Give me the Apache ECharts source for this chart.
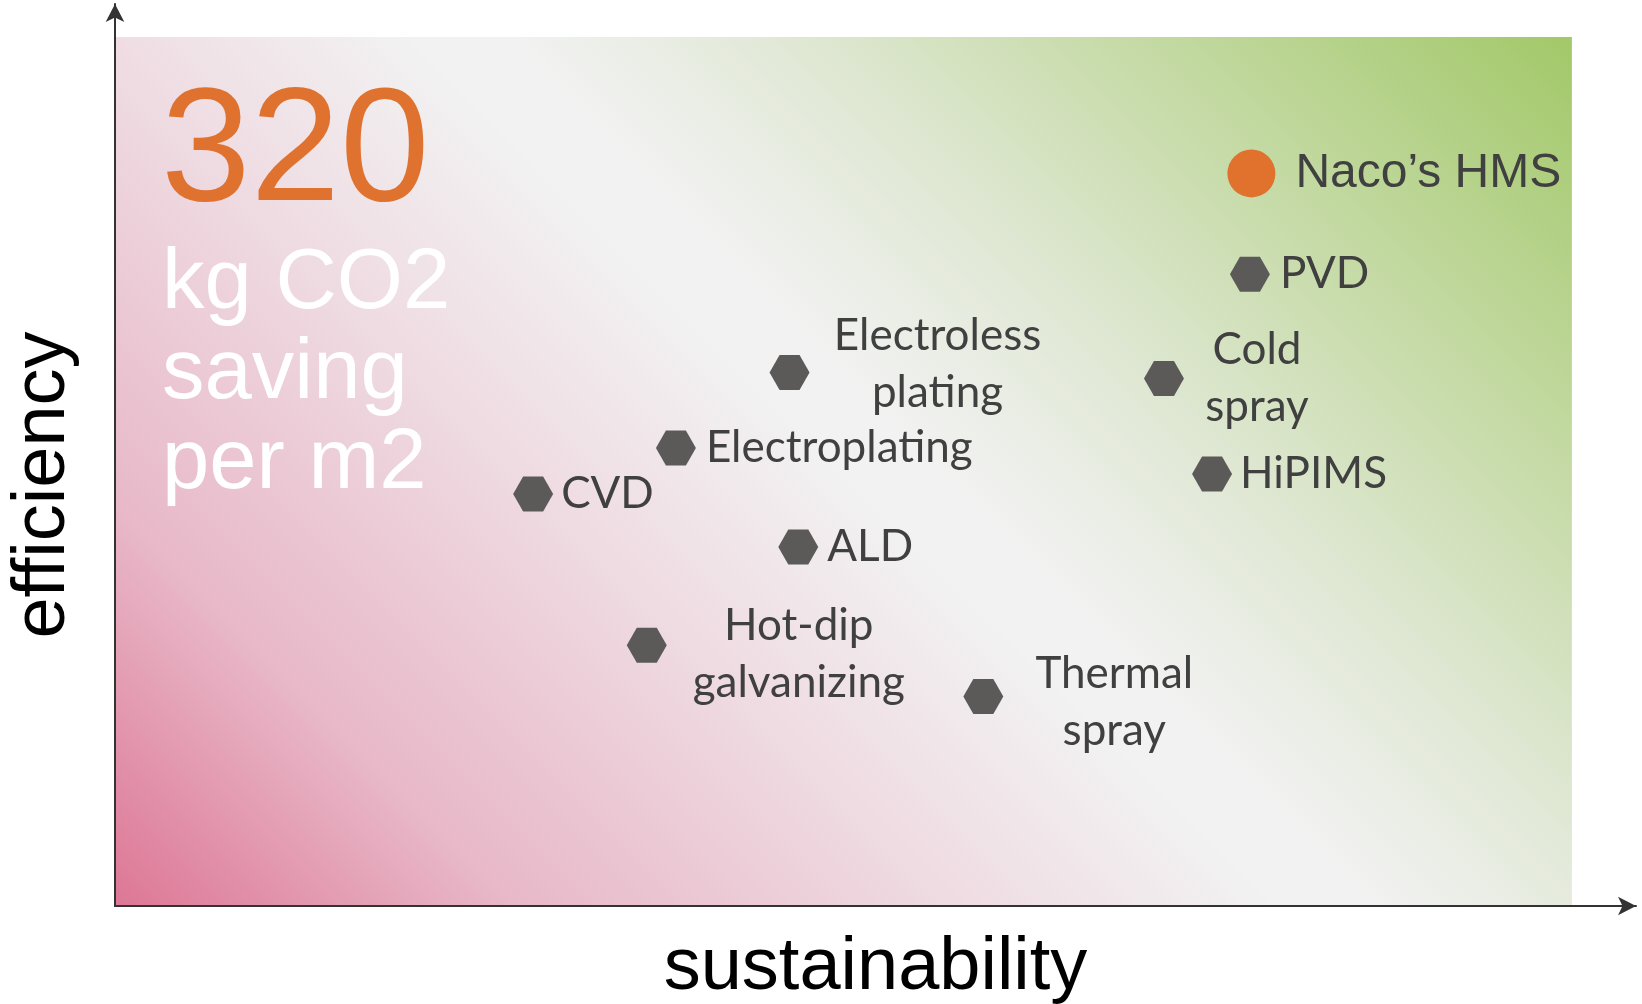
<!DOCTYPE html>
<html>
<head>
<meta charset="utf-8">
<title></title>
<style>
  html, body { margin: 0; padding: 0; background: #fff; }
  #main { width: 1642px; height: 1004px; }
</style>
</head>
<body>
<div id="main"></div>
<script src="https://cdn.jsdelivr.net/npm/echarts@6/dist/echarts.min.js"></script>
<script>
// process names and where they sit on the two axes (0-100 scale)
var names = ['Naco’s HMS', 'PVD', 'Cold\nspray', 'HiPIMS', 'Electroless\nplating', 'Electroplating', 'CVD', 'ALD', 'Hot-dip\ngalvanizing', 'Thermal\nspray'];
var sustainability = [78.0, 77.9, 72.0, 75.3, 46.3, 38.5, 28.7, 46.9, 36.5, 59.6];
var efficiency = [84.3, 72.7, 60.7, 49.7, 61.4, 52.7, 47.4, 41.3, 30.0, 24.1];
var highlight = 'Naco’s HMS';

var bigNumber = '320';
var bigCaption = ['kg CO2', 'saving', 'per m2'];

// label placement per point
var labelPlace = {
  'PVD': { position: 'right', distance: 10 },
  'HiPIMS': { position: 'right', distance: 8 },
  'Electroplating': { position: 'right', distance: 10 },
  'CVD': { position: 'right', distance: 8 },
  'ALD': { position: 'right', distance: 9 },
  'Cold\nspray': { position: 'inside', offset: [93, 0], align: 'center' },
  'Electroless\nplating': { position: 'inside', offset: [148, -8], align: 'center' },
  'Hot-dip\ngalvanizing': { position: 'inside', offset: [152, 9], align: 'center' },
  'Thermal\nspray': { position: 'inside', offset: [131, 6], align: 'center' }
};

var hexPoints = [];
var hmsPoints = [];
for (var i = 0; i < names.length; i++) {
  if (names[i] === highlight) {
    hmsPoints.push({ name: names[i], value: [sustainability[i], efficiency[i]] });
  } else {
    hexPoints.push({ name: names[i], value: [sustainability[i], efficiency[i]], label: labelPlace[names[i]] });
  }
}

var chart = echarts.init(document.getElementById('main'));

var option = {
  animation: false,
  grid: { left: 115, right: 6, top: 4, bottom: 98, outerBoundsMode: 'none' },
  xAxis: {
    type: 'value', min: 0, max: 104.4, z: 5,
    name: 'sustainability', nameLocation: 'middle', nameGap: 26,
    nameTextStyle: { fontSize: 74, fontFamily: 'Liberation Sans', color: '#000' },
    axisLine: { lineStyle: { color: '#333', width: 2 }, symbol: ['none', 'arrow'], symbolSize: [14, 18] },
    axisTick: { show: false }, axisLabel: { show: false }, splitLine: { show: false }
  },
  yAxis: {
    type: 'value', min: 0, max: 103.8, z: 5,
    name: 'efficiency', nameLocation: 'middle', nameGap: 34,
    nameTextStyle: { fontSize: 74, fontFamily: 'Liberation Sans', color: '#000', padding: [0, 60, 0, 0] },
    axisLine: { lineStyle: { color: '#333', width: 2 }, symbol: ['none', 'arrow'], symbolSize: [14, 18] },
    axisTick: { show: false }, axisLabel: { show: false }, splitLine: { show: false }
  },
  graphic: [
    {
      type: 'text', left: 161, top: 75, z: 10,
      style: { text: bigNumber, font: '161px "Liberation Sans"', fill: '#E07230' }
    },
    {
      type: 'text', left: 162, top: 240, z: 10,
      style: { text: bigCaption.join('\n'), font: '85px "Liberation Sans"', lineHeight: 90, fill: '#ffffff' }
    }
  ],
  series: [
    {
      type: 'scatter', z: 1, silent: true, data: [],
      markArea: {
        silent: true,
        itemStyle: {
          color: new echarts.graphic.LinearGradient(0, 1, 0.8, -0.34, [
            { offset: 0, color: '#dd7796' },
            { offset: 0.17, color: '#e8b8c8' },
            { offset: 0.37, color: '#efdde3' },
            { offset: 0.5, color: '#f2f2f2' },
            { offset: 0.54, color: '#f2f2f2' },
            { offset: 0.65, color: '#e2e9d8' },
            { offset: 1, color: '#a2c868' }
          ])
        },
        data: [[{ xAxis: 0, yAxis: 0 }, { xAxis: 100, yAxis: 100 }]]
      }
    },
    {
      type: 'scatter', z: 3,
      symbol: 'path://M0,50L25,6.7L75,6.7L100,50L75,93.3L25,93.3Z',
      symbolSize: [40, 35],
      itemStyle: { color: '#5b5a59', opacity: 1 },
      label: {
        show: true, formatter: '{b}', color: '#404040',
        fontFamily: 'Lato', fontSize: 44, lineHeight: 57
      },
      data: hexPoints
    },
    {
      type: 'scatter', z: 3,
      symbol: 'circle', symbolSize: 48,
      itemStyle: { color: '#E0722E', opacity: 1 },
      label: {
        show: true, position: 'right', distance: 20, formatter: '{b}',
        color: '#404040', fontFamily: 'Liberation Sans', fontSize: 48
      },
      data: hmsPoints
    }
  ]
};

chart.setOption(option);
</script>
</body>
</html>
